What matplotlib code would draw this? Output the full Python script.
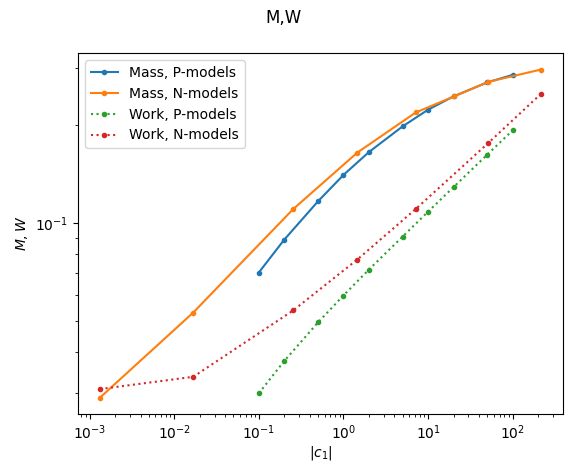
import matplotlib.pyplot as plt

# Data
c1_p = [0.1, 0.2, 0.5, 1, 2, 5, 10, 20, 50, 100]
mass_p = [0.0704, 0.0889, 0.1166, 0.1406, 0.1654, 0.1984, 0.2234, 0.2455, 0.271, 0.286]
work_p = [0.0299, 0.0376, 0.0494, 0.0598, 0.0719, 0.0908, 0.1084, 0.129, 0.1624, 0.193]

c1_n_mass = [1.33e-3, 0.0168, 0.255, 1.46, 7.14, 20.4, 51, 216]
mass_n = [0.029, 0.053, 0.1104, 0.1648, 0.219, 0.2455, 0.272, 0.297]

c1_n_work = [1.33e-3, 0.0168, 0.255, 1.46, 7.14, 51, 216]
work_n = [0.0308, 0.0336, 0.0538, 0.0772, 0.1104, 0.176, 0.250]

fig, ax = plt.subplots(figsize=(5.67, 4.62), dpi=100)
fig.subplots_adjust(left=0.1376, right=0.993, top=0.885, bottom=0.104)

ax.plot(c1_p, mass_p, '.-', color='C0', label='Mass, P-models')
ax.plot(c1_n_mass, mass_n, '.-', color='C1', label='Mass, N-models')
ax.plot(c1_p, work_p, '.:', color='C2', label='Work, P-models')
ax.plot(c1_n_work, work_n, '.:', color='C3', label='Work, N-models')

ax.set_xscale('log')
ax.set_yscale('log')
ax.set_xlabel('$|c_1|$', labelpad=1)
ax.set_ylabel('$M, W$')
ax.legend(loc='upper left')
fig.suptitle('M,W')

plt.savefig('out.png', dpi=100)
